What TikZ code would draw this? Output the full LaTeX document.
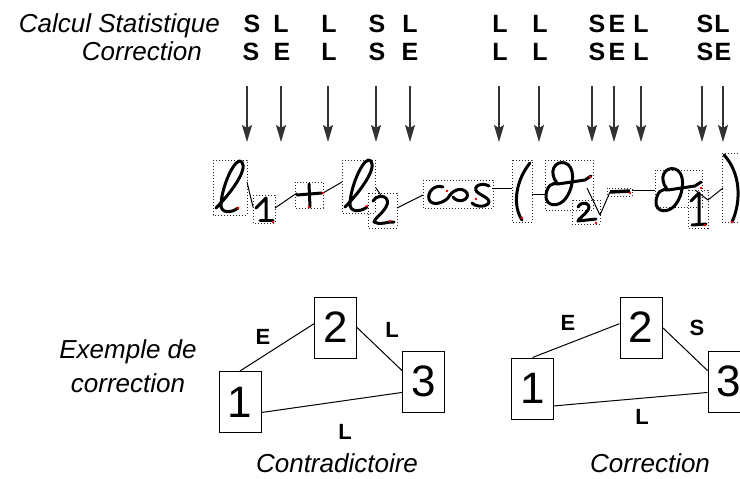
\documentclass[tikz,border=0pt]{standalone}
\usepackage{fontspec}
\setmainfont{Liberation Sans}
\usetikzlibrary{arrows.meta,calc}
\begin{document}
\begin{tikzpicture}[x=1pt,y=-1pt,
  lab/.style={font=\fontsize{26}{34}\selectfont\itshape, inner sep=0},
  letr/.style={font=\fontsize{25}{30}\selectfont\bfseries, inner sep=0, anchor=base},
  arr/.style={-{Stealth[length=17pt,width=10pt,inset=3pt]}, line width=1.2pt, draw=black!80},
  dotbox/.style={draw=black!85, line width=1pt, dash pattern=on 1pt off 2pt},
  hw/.style={line width=3pt, line cap=round, line join=round},
  seg/.style={line width=1pt},
  gbox/.style={draw, line width=1pt, minimum width=42pt, minimum height=61pt, inner sep=0, font=\fontsize{44}{44}\selectfont},
  elab/.style={font=\fontsize{22}{24}\selectfont\bfseries, inner sep=0},
  rdot/.style={fill=red, draw=none}]
\useasboundingbox (0,0) rectangle (740,479);

% top labels
\node[lab, anchor=base east] (cs) at (220,32) {Calcul Statistique};
\node[lab, anchor=base east] (co) at (202,60) {Correction};
\foreach \x/\t [count=\i] in {252/S,281/L,329/L,377/S,410/L,500/L,540/L,597/S,617/E,641/L,705/S,722/L}
  \node[letr] (ra\i) at (\x,32) {\t};
\foreach \x/\t [count=\i] in {251/S,282/E,329/L,377/S,410/E,500/L,540/L,597/S,617/E,641/L,705/S,723/E}
  \node[letr] (rb\i) at (\x,60) {\t};

% arrows
\foreach \x [count=\i] in {247,281,328,376,410,499,539,592,614,641,702,723} {
  \coordinate (as\i) at (\x,86);
  \coordinate (ae\i) at (\x,142);
  \draw[arr] (as\i) -- (ae\i);
}

% dotted segmentation boxes
\foreach \ax/\ay/\bx/\by in {213/160/247/215, 253/195/275/223, 295/182/323/208, 342/160/375/213,
  368/193/397/228, 423/180/493/208, 512/160/532/222, 545/160/593/210, 572/200/600/224,
  607/188/632/196, 655/170/702/207, 688/190/708/228, 722/153/742/222}
  \draw[dotbox] (\ax,\ay) rectangle (\bx,\by);

% handwritten strokes
\draw[hw] (216,208) .. controls (230,194) and (248,170) .. (242,162) .. controls (236,155) and (222,185) .. (221,204) .. controls (220,214) and (232,213) .. (238,208);
\draw[hw] (256,208) -- (266,198) -- (266,220);
\draw[hw] (260,220) -- (273,220);
\draw[hw] (297,195) -- (322,193);
\draw[hw] (309,184) -- (310,207);
\begin{scope}[shift={(129,-1)}]
\draw[hw] (216,208) .. controls (230,194) and (248,170) .. (242,162) .. controls (236,155) and (222,185) .. (221,204) .. controls (220,214) and (232,213) .. (238,208);
\end{scope}
\draw[hw] (373,201) .. controls (379,192) and (392,197) .. (386,207) .. controls (382,214) and (374,219) .. (374,222) .. controls (380,226) and (388,221) .. (394,222);
\draw[hw] (443,187) .. controls (435,184) and (427,192) .. (429,199) .. controls (431,206) and (442,204) .. (448,198) .. controls (452,190) and (462,186) .. (467,193) .. controls (470,200) and (458,204) .. (453,197);
\draw[hw] (489,186) .. controls (482,182) and (472,186) .. (477,192) .. controls (482,196) and (492,199) .. (488,204) .. controls (484,208) and (474,206) .. (472,203);
\draw[hw] (530,163) .. controls (516,180) and (512,205) .. (522,220);
\draw[hw] (557,183) .. controls (548,172) and (555,160) .. (565,163) .. controls (575,166) and (575,185) .. (566,198) .. controls (559,208) and (545,207) .. (546,195) .. controls (547,186) and (552,182) .. (558,184) -- (585,180) -- (591,176);
\draw[hw] (578,207) .. controls (582,200) and (592,203) .. (588,210) .. controls (585,215) and (578,219) .. (578,221) -- (596,219);
\draw[line width=3.5pt] (610,192) -- (630,191);
\begin{scope}[shift={(110,6)}]
\draw[hw] (557,183) .. controls (548,172) and (555,160) .. (565,163) .. controls (575,166) and (575,185) .. (566,198) .. controls (559,208) and (545,207) .. (546,195) .. controls (547,186) and (552,182) .. (558,184) -- (585,180) -- (591,176);
\end{scope}
\draw[hw] (691,201) -- (699,193) -- (699,224);
\draw[hw] (692,225) -- (706,224);
\draw[hw] (724,155) .. controls (740,172) and (742,200) .. (732,222);

% segmentation links
\foreach \ax/\ay/\bx/\by [count=\i] in {247/182/253/207, 275/208/297/193, 323/193/342/182, 376/188/382/197,
  397/208/423/195, 492/188/512/188, 532/194/546/194, 587/188/600/215, 600/215/610/192,
  632/190/655/190, 695/190/708/200, 708/200/723/188} {
  \coordinate (ka\i) at (\ax,\ay);
  \coordinate (kb\i) at (\bx,\by);
  \draw[seg] (ka\i) -- (kb\i);
}
\foreach \x/\y in {238/208,273/222,309/207,323/193,367/206,390/221,447/191,476/199,522/218,590/177,596/223,630/193,701/188,705/225,732/222}
  \fill[rdot] (\x,\y) circle (1.4);

% example graphs
\node[lab, align=center] (ex) at (128,366) {Exemple de\\correction};

\node[gbox] (l1) at (240,402) {1};
\node[gbox] (l2) at (335.5,327.5) {2};
\node[gbox] (l3) at (423.5,381.5) {3};
\draw[seg] (l1.north) -- (l2.170);
\draw[seg] (l2.east) -- (l3.153);
\draw[seg] (l1.334) -- (l3.207);
\node[elab] (le) at (263,337) {E};
\node[elab] (ll1) at (392,330) {L};
\node[elab] (ll2) at (345,432) {L};
\node[lab] (tc) at (337,463) {Contradictoire};

\node[gbox] (r1) at (532.5,388.5) {1};
\node[gbox] (r2) at (641,327.5) {2};
\node[gbox] (r3) at (729,381.5) {3};
\draw[seg] (r1.north) -- (r2.170);
\draw[seg] (r2.east) -- (r3.153);
\draw[seg] (r1.321) -- (r3.207);
\node[elab] (re) at (568,323) {E};
\node[elab] (rs) at (697,328) {S};
\node[elab] (rl) at (642,417) {L};
\node[lab] (tr) at (650,463) {Correction};
\end{tikzpicture}
\end{document}
